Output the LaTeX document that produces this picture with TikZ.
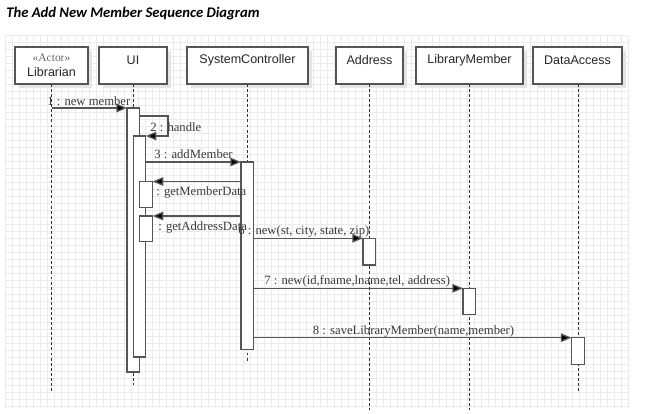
\documentclass[tikz,border=0pt]{standalone}
\usepackage{fontspec}
\setmainfont{Liberation Serif}
\setsansfont{Liberation Sans}
\newfontfamily\titlefont{Carlito}
\usetikzlibrary{arrows.meta,fit,shadows}
\definecolor{gridc}{HTML}{EBEBEB}
\definecolor{linec}{HTML}{555555}
\definecolor{txtc}{HTML}{3A3A3A}
\definecolor{shadowc}{HTML}{E4E4E4}
\begin{document}
\begin{tikzpicture}[x=0.75pt,y=-0.75pt,
  headbox/.style={draw=linec, line width=0.9pt, fill=white, inner sep=0pt, outer sep=0pt,
    general shadow={fill=shadowc, shadow xshift=3pt, shadow yshift=-3pt}},
  headtxt/.style={font=\sffamily\fontsize{9.4}{11}\selectfont, text=black!85, inner sep=0pt},
  stereo/.style={font=\rmfamily\fontsize{8.6}{10}\selectfont, text=black!60, inner sep=0pt},
  barbox/.style={draw=linec, line width=0.9pt, fill=white, inner sep=0pt, outer sep=0pt},
  life/.style={draw=black!80, line width=0.7pt, dash pattern=on 2.2pt off 1.6pt},
  msg/.style={draw=linec, line width=1pt, -{Triangle[length=8pt,width=6.4pt,fill=black]}},
  lbl/.style={font=\rmfamily\fontsize{9.5}{11}\selectfont, text=txtc, inner sep=0pt, anchor=west},
]
\useasboundingbox (0,0) rectangle (647,414);
\fill[white] (0,0) rectangle (647,414);
% grid
\foreach \gx in {5,12,...,628} \draw[gridc, line width=0.4pt] (\gx,35) -- (\gx,408);
\foreach \gy in {35,42,...,408} \draw[gridc, line width=0.4pt] (5,\gy) -- (628,\gy);

% title
\node[anchor=base west, inner sep=0pt, font=\titlefont\bfseries\itshape\fontsize{11}{13}\selectfont] (title) at (6,17) {The Add New Member Sequence Diagram};

% heads
\node[headbox, fit={(15,47) (88,84)}] (lib) {};
\node[headbox, fit={(99,47) (167,84)}] (ui) {};
\node[headbox, fit={(187,47) (308,84)}] (sc) {};
\node[headbox, fit={(336,47) (403,84)}] (addr) {};
\node[headbox, fit={(416,47) (523,84)}] (lm) {};
\node[headbox, fit={(533,47) (622,84)}] (da) {};

\node[stereo] (libS) at (51.5,58) {«Actor»};
\node[headtxt] (libN) at (51.5,72.5) {Librarian};
\node[headtxt] (uiT) at (133,60) {UI};
\node[headtxt] (scT) at (247.5,60) {SystemController};
\node[headtxt] (addrT) at (369.5,60) {Address};
\node[headtxt] (lmT) at (469.5,60) {LibraryMember};
\node[headtxt] (daT) at (577.5,60) {DataAccess};

% lifeline ends
\coordinate (libE) at (51.5,392);
\coordinate (uiE) at (133.3,385);
\coordinate (scE) at (247.5,362);
\coordinate (addrE) at (369.5,410);
\coordinate (lmE) at (469.5,410);
\coordinate (daE) at (578,392);

\draw[life] (lib.south) -- (libE);
\draw[life] (ui.south -| uiE) -- (uiE);
\draw[life] (sc.south) -- (scE);
\draw[life] (addr.south -| addrE) -- (addrE);
\draw[life] (lm.south -| lmE) -- (lmE);
\draw[life] (da.south -| daE) -- (daE);

% activation bars
\node[barbox, fit={(127,108) (139.5,372)}] (uiA) {};
\node[barbox, fit={(133.3,136) (145.8,357)}] (uiB) {};
\node[barbox, fit={(139.8,181.5) (152.6,207.3)}] (gm) {};
\node[barbox, fit={(139.8,216) (152.6,241.7)}] (ga) {};
\node[barbox, fit={(241,162) (253.6,349.5)}] (scA) {};
\node[barbox, fit={(363,238.3) (375.8,265)}] (addrA) {};
\node[barbox, fit={(463,288.3) (475.8,314.3)}] (lmA) {};
\node[barbox, fit={(571.5,337.7) (584.2,364.3)}] (daA) {};

% messages
\draw[msg] (lib.south |- uiA.north west) -- (uiA.north west);
\coordinate (loopR) at (168,116);
\draw[msg] (uiA.east |- loopR) -- (loopR) |- (uiB.north east);
\draw[msg] (uiB.east |- scA.north west) -- (scA.north west);
\draw[msg] (scA.west |- gm.north east) -- (gm.north east);
\draw[msg] (scA.west |- ga.north east) -- (ga.north east);
\draw[msg] (scA.east |- addrA.north west) -- (addrA.north west);
\draw[msg] (scA.east |- lmA.north west) -- (lmA.north west);
\draw[msg] (scA.east |- daA.north west) -- (daA.north west);

% labels
\node[lbl] (l1) at (47,101.5) {1 : new member};
\node[lbl] (l2) at (150,126.7) {2 : handle};
\node[lbl] (l3) at (154,154.3) {3 : addMember};
\node[lbl] (l4) at (156,192.7) {: getMemberData};
\node[lbl] (l5) at (158,227) {: getAddressData};
\node[lbl] (l6) at (238,231) {6 : new(st, city, state, zip)};
\node[lbl] (l7) at (264,281.7) {7 : new(id,fname,lname,tel, address)};
\node[lbl] (l8) at (312.7,331) {8 : saveLibraryMember(name,member)};
\end{tikzpicture}
\end{document}
